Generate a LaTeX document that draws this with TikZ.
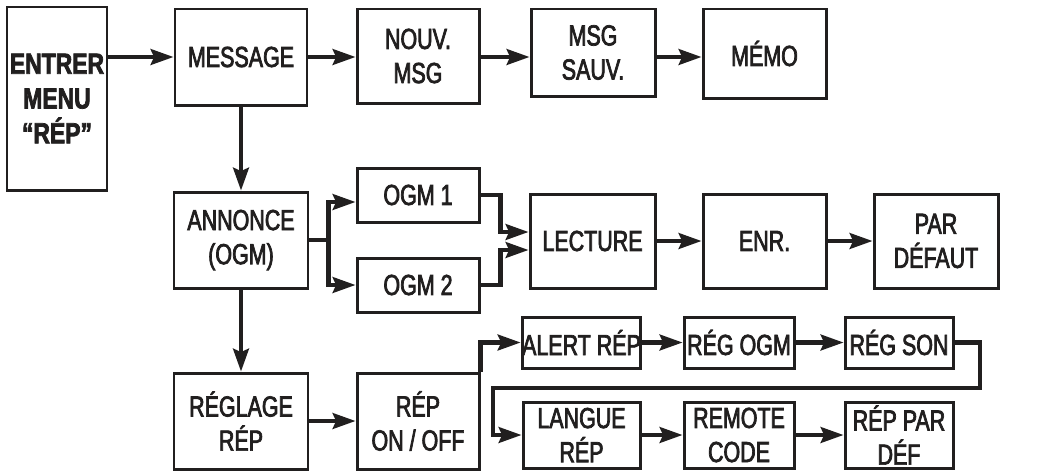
\documentclass[tikz,border=0pt]{standalone}
\usepackage{fontspec}
\setmainfont{Liberation Sans}[FakeStretch=0.72]
\newfontfamily\boitefont{Liberation Sans}[FakeStretch=0.74,FakeBold=2.5]
\newfontfamily\grasfont{Liberation Sans}[FakeStretch=0.79,BoldFeatures={FakeBold=2.5}]
\usetikzlibrary{arrows.meta,calc}
\definecolor{TraitClr}{rgb}{0.13,0.12,0.12}

\tikzset{
  Boite/.style={draw=TraitClr,line width=1.7pt,align=center,inner sep=0pt,
    text=TraitClr,font=\fontsize{16.5}{19.4}\boitefont},
  BoiteGras/.style={Boite,font=\fontsize{16.5}{19.8}\grasfont\bfseries},
  Taille/.style 2 args={minimum width=#1*0.02cm,minimum height=#2*0.02cm},
  Trait/.style={draw=TraitClr,line width=2.3pt},
  Fleche/.style={Trait,-{Stealth[length=13pt,width=9pt,inset=2pt]}}
}

\begin{document}
\begin{tikzpicture}[x=0.02cm,y=-0.02cm]
\useasboundingbox (0,0) rectangle (1040,471);

% Menu d'entrée et première ligne.
\node[BoiteGras,Taille={100}{183}] (entrer) at (57,98.5) {ENTRER\\MENU\\“RÉP”};
\node[Boite,Taille={132}{96}] (message) at (241,57) {MESSAGE};
\node[Boite,Taille={122}{94}] (nouv) at (418,56) {NOUV.\\MSG};
\node[Boite,Taille={124}{87}] (sauv) at (593,52.5) {MSG\\SAUV.};
\node[Boite,Taille={123}{89}] (memo) at (764.5,53.5) {MÉMO};

% Deuxième ligne : annonce.
\node[Boite,Taille={134}{96}] (annonce) at (241,240) {ANNONCE\\(OGM)};
\node[Boite,Taille={122}{54}] (ogmA) at (418,195) {OGM 1};
\node[Boite,Taille={122}{54}] (ogmB) at (418,285) {OGM 2};
\node[Boite,Taille={125}{94}] (lecture) at (592.5,241) {LECTURE};
\node[Boite,Taille={123}{94}] (enr) at (764.5,241) {ENR.};
\node[Boite,Taille={124}{94}] (defaut) at (936,241) {PAR\\DÉFAUT};

% Troisième ligne : réglage du répondeur.
\node[Boite,Taille={134}{96}] (reglage) at (241,421) {RÉGLAGE\\RÉP};
\node[Boite,Taille={122}{96}] (onoff) at (418,421) {RÉP\\ON / OFF};
\node[Boite,Taille={117}{51}] (alert) at (581.5,342.5) {ALERT RÉP};
\node[Boite,Taille={110}{51}] (regogm) at (739,342.5) {RÉG OGM};
\node[Boite,Taille={108}{51}] (regson) at (899,342.5) {RÉG SON};
\node[Boite,Taille={117}{66}] (langue) at (581.5,435) {LANGUE\\RÉP};
\node[Boite,Taille={110}{66}] (remote) at (739,435) {REMOTE\\CODE};
\node[Boite,Taille={108}{66}] (repdef) at (899,435) {RÉP PAR\\DÉF};

% Flèches de la première ligne.
\draw[Fleche] (entrer.east |- message.west) -- (message.west);
\draw[Fleche] (message.east) -- (message.east -| nouv.west);
\draw[Fleche] (nouv.east |- message.east) -- (sauv.west |- message.east);
\draw[Fleche] (sauv.east |- message.east) -- (memo.west |- message.east);

% Flèches verticales.
\draw[Fleche] (message.south) -- (annonce.north);
\draw[Fleche] (annonce.south) -- (reglage.north);

% Fourche vers OGM 1 et OGM 2, puis vers la lecture.
\draw[Trait] (annonce.east) -- ++(19,0) coordinate (fourche);
\draw[Fleche] (fourche) |- ($(ogmA.west)+(0,7)$);
\draw[Fleche] (fourche) |- (ogmB.west);
\draw[Fleche] (ogmA.east) -- ++(20,0) |- ($(lecture.west)+(0,-9)$);
\draw[Fleche] (ogmB.east) -- ++(20,0) |- ($(lecture.west)+(0,9)$);
\draw[Fleche] (lecture.east) -- (enr.west);
\draw[Fleche] (enr.east) -- (defaut.west);

% Flèches du réglage.
\coordinate (coudeD) at (980,388);
\coordinate (coudeG) at (493,388);
\draw[Fleche] (reglage.east) -- (reglage.east -| onoff.west);
\draw[Fleche] (onoff.north east) |- (alert.west);
\draw[Fleche] (alert.east) -- (regogm.west);
\draw[Fleche] (regogm.east) -- (regson.west);
\draw[Fleche] (regson.east) -| (coudeD) -- (coudeG) |- (langue.west);
\draw[Fleche] (langue.east) -- (remote.west);
\draw[Fleche] (remote.east) -- (repdef.west);

\end{tikzpicture}
\end{document}
